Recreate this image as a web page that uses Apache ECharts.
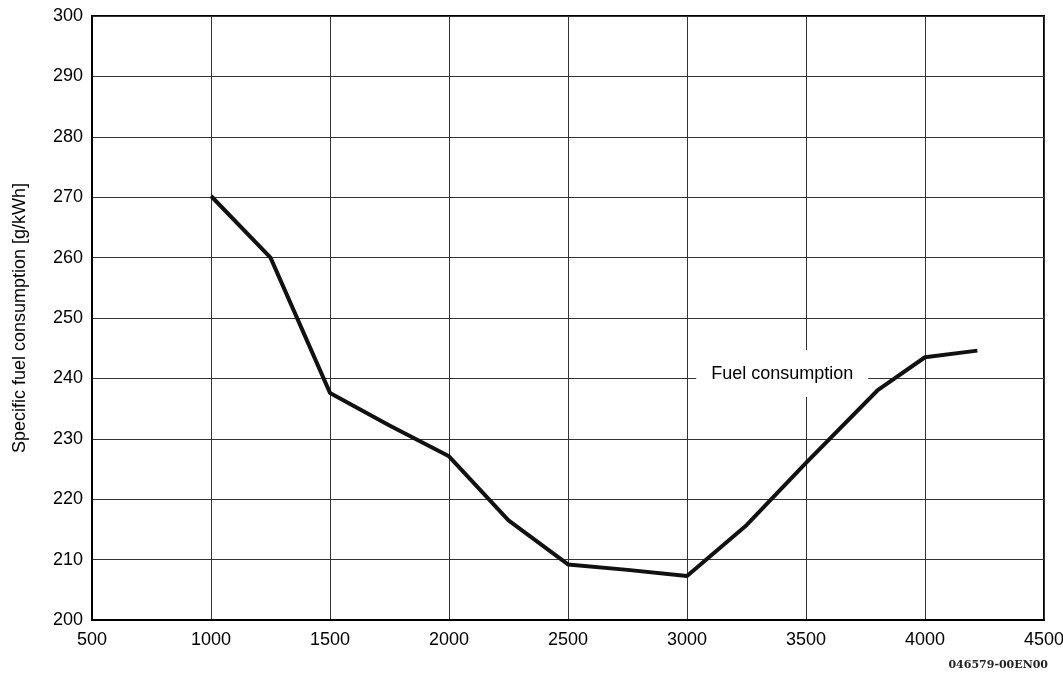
<!DOCTYPE html>
<html>
<head>
<meta charset="utf-8">
<title>Specific fuel consumption</title>
<script src="https://cdn.jsdelivr.net/npm/echarts@6/dist/echarts.min.js"></script>
<style>
  html, body { margin: 0; padding: 0; background: #fff; }
  #chart { width: 1063px; height: 677px; }
</style>
</head>
<body>
<div id="chart"></div>
<script>
// engine speed [rpm] and fuel consumption [g/kWh]
const speeds = [1000, 1250, 1500, 1750, 2000, 2250, 2500, 2750, 3000, 3250, 3500, 3800, 4000, 4220];
const consumption = [270.2, 260, 237.6, 232.2, 227.1, 216.5, 209.2, 208.3, 207.3, 215.7, 226, 238, 243.5, 244.6];

const xTicks = { min: 500, max: 4500, step: 500 };
const yTicks = { min: 200, max: 300, step: 10 };

const curveLabel = 'Fuel consumption';
const labelAt = [3400, 240.8];
const docCode = '046579-00EN00';

const font = '"Liberation Sans", Arial, Helvetica, sans-serif';

const chart = echarts.init(document.getElementById('chart'));

const option = {
  animation: false,
  backgroundColor: '#fff',
  title: {
    text: docCode,
    right: 10,
    bottom: 1,
    textStyle: {
      fontFamily: '"DejaVu Serif", "Liberation Serif", serif',
      fontSize: 11,
      fontWeight: 'bold',
      color: '#222'
    }
  },
  grid: {
    left: 92,
    right: 19,
    top: 16,
    bottom: 57,
    outerBoundsMode: 'none',
    show: true,
    borderColor: '#000',
    borderWidth: 2
  },
  xAxis: {
    type: 'value',
    min: xTicks.min,
    max: xTicks.max,
    interval: xTicks.step,
    axisLine: { show: true, lineStyle: { color: '#000', width: 2 } },
    axisTick: { show: false },
    axisLabel: {
      color: '#000', fontSize: 18, fontFamily: font, margin: 11,
      formatter: (v) => String(v)
    },
    splitLine: { show: true, lineStyle: { color: '#333', width: 1 } }
  },
  yAxis: {
    type: 'value',
    min: yTicks.min,
    max: yTicks.max,
    interval: yTicks.step,
    name: 'Specific fuel consumption [g/kWh]',
    nameLocation: 'middle',
    nameRotate: 90,
    nameGap: 63,
    nameTextStyle: { color: '#000', fontSize: 18, fontFamily: font },
    axisLine: { show: true, lineStyle: { color: '#000', width: 2 } },
    axisTick: { show: false },
    axisLabel: {
      color: '#000', fontSize: 18, fontFamily: font, margin: 9,
      formatter: (v) => String(v)
    },
    splitLine: { show: true, lineStyle: { color: '#333', width: 1 } }
  },
  series: [
    {
      type: 'line',
      data: speeds.map((s, i) => [s, consumption[i]]),
      symbol: 'none',
      lineStyle: { color: '#111', width: 4 },
      markPoint: {
        symbol: 'rect',
        symbolSize: [172, 47],
        itemStyle: { color: '#fff' },
        label: {
          show: true,
          position: 'inside',
          color: '#000',
          fontSize: 18,
          fontFamily: font,
          formatter: curveLabel
        },
        data: [{ coord: labelAt }]
      }
    }
  ]
};

chart.setOption(option);
</script>
</body>
</html>
